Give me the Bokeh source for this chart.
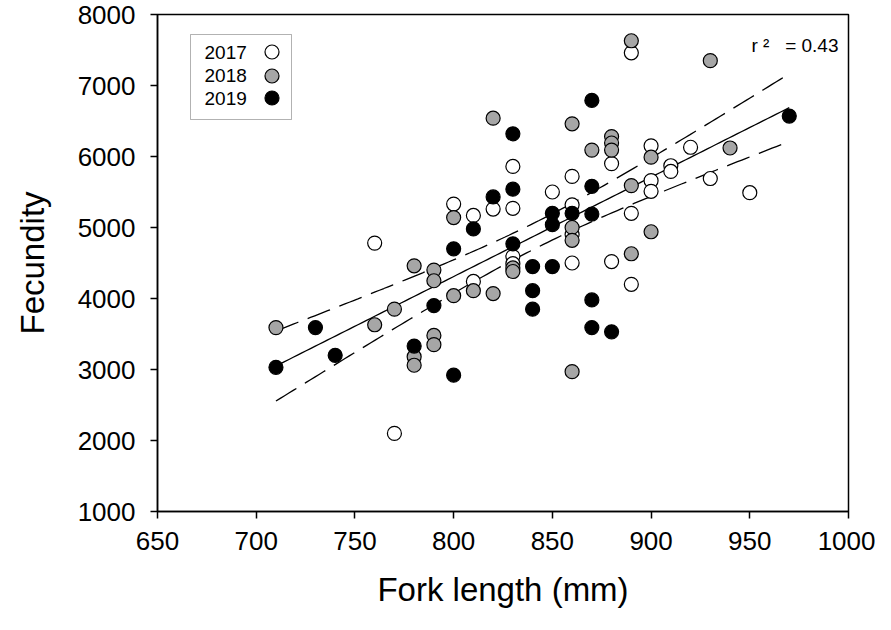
import numpy as np
from bokeh.plotting import figure
from bokeh.models import (Range1d, FixedTicker, Legend, LegendItem, Label,
                          BoxAnnotation, ColumnDataSource)
from bokeh.embed import file_html
from bokeh.resources import INLINE

# ---- data ----
x_2017 = [760, 770, 800, 810, 810, 820, 830, 830, 830, 830, 850, 860, 860, 860, 860,
          880, 880, 890, 890, 890, 900, 900, 900, 910, 910, 920, 930, 950]
y_2017 = [4780, 2100, 5330, 5170, 4240, 5260, 5860, 5270, 4590, 4490, 5500, 5720, 5320, 4900, 4500,
          5900, 4520, 7460, 5200, 4200, 6150, 5660, 5510, 5870, 5790, 6130, 5690, 5490]

x_2018 = [710, 760, 770, 780, 780, 780, 790, 790, 790, 790, 800, 800, 810, 820, 820, 830, 830,
          860, 860, 860, 860, 870, 880, 880, 880, 890, 890, 890, 900, 900, 930, 940]
y_2018 = [3590, 3630, 3850, 4460, 3180, 3060, 4400, 4250, 3480, 3350, 5140, 4040, 4110, 6540, 4070, 4430, 4380,
          6460, 5000, 4820, 2970, 6090, 6280, 6190, 6090, 7630, 5590, 4630, 5990, 4940, 7350, 6120]

x_2019 = [710, 730, 740, 780, 790, 800, 800, 810, 820, 830, 830, 830, 840, 840, 840, 850, 850, 850,
          860, 870, 870, 870, 870, 870, 880, 970]
y_2019 = [3030, 3590, 3200, 3330, 3900, 2920, 4700, 4980, 5430, 6320, 5540, 4770, 4450, 4110, 3850, 5200, 5040, 4450,
          5200, 6790, 5580, 5190, 3980, 3590, 3530, 6570]

years = ["2017", "2018", "2019"]
fills = ["white", "#a6a6a6", "black"]
x_ticks = [650, 700, 750, 800, 850, 900, 950, 1000]
y_ticks = [1000, 2000, 3000, 4000, 5000, 6000, 7000, 8000]
r2_text = "r \u00b2\u00a0\u00a0\u00a0= 0.43"
T_CRIT = 1.99

# ---- linear regression with 95% confidence band ----
xa = np.array(x_2017 + x_2018 + x_2019, dtype=float)
ya = np.array(y_2017 + y_2018 + y_2019, dtype=float)
n = len(xa)
xm, ym = xa.mean(), ya.mean()
sxx = ((xa - xm) ** 2).sum()
b1 = ((xa - xm) * (ya - ym)).sum() / sxx
b0 = ym - b1 * xm
s = np.sqrt(((ya - (b0 + b1 * xa)) ** 2).sum() / (n - 2))
xs = np.linspace(xa.min(), xa.max(), 120)
fit = b0 + b1 * xs
half = T_CRIT * s * np.sqrt(1.0 / n + (xs - xm) ** 2 / sxx)

FONT = "Liberation Sans"

p = figure(frame_width=691, frame_height=497,
           x_range=Range1d(650, 1000), y_range=Range1d(1000, 8000),
           output_backend="svg", toolbar_location=None,
           min_border_left=157, min_border_right=27, min_border_top=14, min_border_bottom=104)
p.grid.visible = False
p.outline_line_color = "black"
p.outline_line_width = 1.5
p.background_fill_color = "white"
p.border_fill_color = "white"

for ax in (p.xaxis[0], p.yaxis[0]):
    ax.axis_line_color = "black"
    ax.axis_line_width = 1.5
    ax.major_tick_line_color = "black"
    ax.major_tick_line_width = 1.5
    ax.major_tick_in = 0
    ax.major_tick_out = 7
    ax.minor_tick_line_color = None
    ax.major_label_text_font = FONT
    ax.major_label_text_font_size = "26px"
    ax.major_label_text_color = "black"
    ax.axis_label_text_font = FONT
    ax.axis_label_text_font_size = "33px"
    ax.axis_label_text_font_style = "normal"
    ax.axis_label_text_color = "black"

p.xaxis.ticker = FixedTicker(ticks=x_ticks)
p.yaxis.ticker = FixedTicker(ticks=y_ticks)
p.xaxis.axis_label = "Fork length (mm)"
p.yaxis.axis_label = "Fecundity"
p.xaxis.major_label_standoff = 13
p.yaxis.major_label_standoff = 15
p.xaxis.axis_label_standoff = 18
p.yaxis.axis_label_standoff = 24

# regression lines
p.line(xs, fit, line_color="black", line_width=1.3)
p.line(xs, fit + half, line_color="black", line_width=1.3, line_dash="24 10")
p.line(xs, fit - half, line_color="black", line_width=1.3, line_dash="24 10")

renderers = []
for xv, yv, fc in zip([x_2017, x_2018, x_2019], [y_2017, y_2018, y_2019], fills):
    src = ColumnDataSource(dict(x=xv, y=yv))
    r = p.scatter("x", "y", source=src, size=14, fill_color=fc,
                  line_color="black", line_width=1.2)
    renderers.append(r)

# custom legend: label on the left, symbol on the right (one symbol per row)
row_y = [459, 436, 413.5]
for r, yr, ry in zip(renderers, years, row_y):
    lg = Legend(items=[LegendItem(label=" ", renderers=[r])],
                location=(97, int(round(ry - 17.5))), orientation="vertical",
                glyph_width=35, glyph_height=35, spacing=0, padding=0, margin=0,
                label_standoff=0, label_width=1, label_height=1,
                label_text_font_size="1px", border_line_color=None,
                background_fill_alpha=0)
    p.add_layout(lg, "center")
    p.add_layout(Label(x=47, y=ry, x_units="screen", y_units="screen",
                       text=yr, text_font=FONT, text_font_size="19px",
                       text_baseline="middle", text_align="left", text_color="black"))

p.add_layout(BoxAnnotation(left=33, right=134, bottom=392, top=477,
                           left_units="screen", right_units="screen",
                           bottom_units="screen", top_units="screen",
                           fill_color=None, line_color="black", line_width=1))

p.add_layout(Label(x=681, y=466, x_units="screen", y_units="screen", text=r2_text,
                   text_font=FONT, text_font_size="19px", text_baseline="middle",
                   text_align="right", text_color="black"))

open("out.html", "w").write(file_html(p, INLINE))
